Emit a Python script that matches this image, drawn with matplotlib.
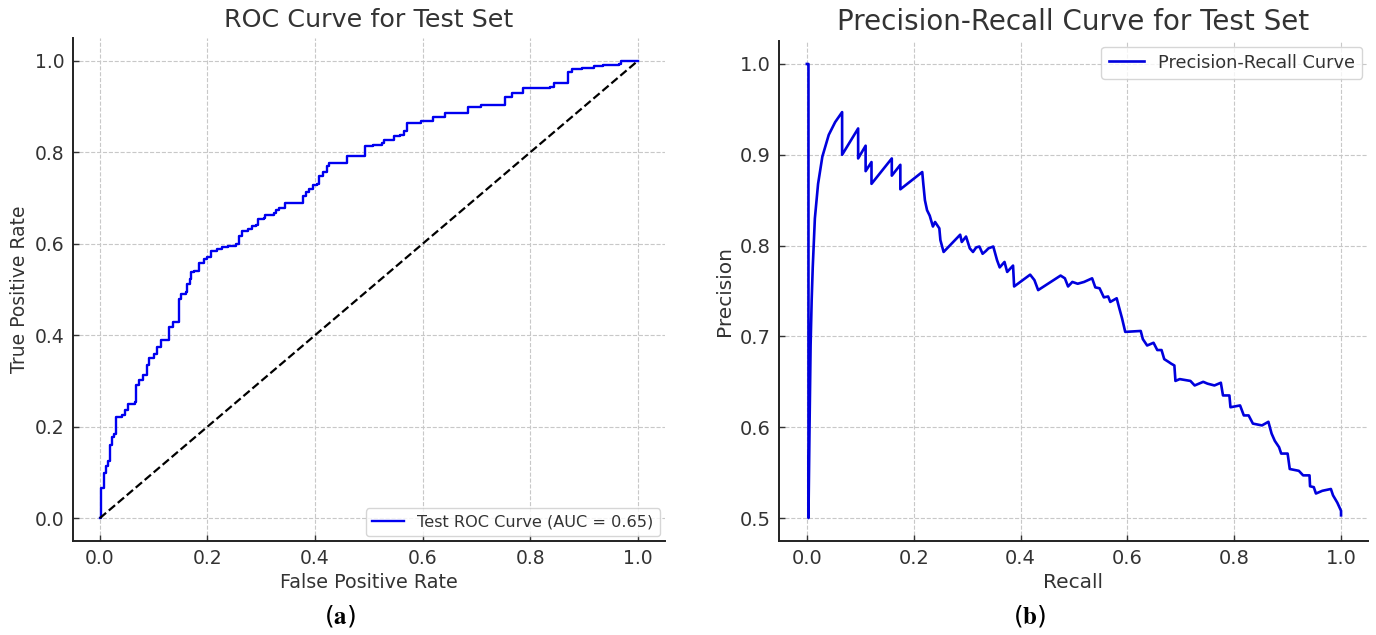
import matplotlib
matplotlib.use("Agg")
import matplotlib.pyplot as plt

# ROC curve corners (fpr, tpr), drawn as steps
fpr = [0.000, 0.003, 0.007, 0.011, 0.015, 0.019, 0.022, 0.027, 0.031, 0.041,
       0.046, 0.053, 0.066, 0.068, 0.073, 0.081, 0.087, 0.092, 0.101, 0.106,
       0.114, 0.128, 0.136, 0.147, 0.148, 0.151, 0.160, 0.162, 0.167, 0.169,
       0.176, 0.184, 0.194, 0.200, 0.206, 0.217, 0.228, 0.239, 0.253, 0.258,
       0.264, 0.275, 0.283, 0.291, 0.294, 0.305, 0.308, 0.323, 0.327, 0.334,
       0.345, 0.378, 0.383, 0.389, 0.396, 0.404, 0.407, 0.415, 0.422, 0.426,
       0.459, 0.493, 0.507, 0.525, 0.529, 0.547, 0.558, 0.565, 0.571, 0.598,
       0.620, 0.642, 0.684, 0.708, 0.753, 0.767, 0.786, 0.837, 0.844, 0.870,
       0.877, 0.896, 0.918, 0.936, 0.965, 0.969, 1.000]
tpr = [0.000, 0.065, 0.098, 0.113, 0.124, 0.160, 0.178, 0.185, 0.222, 0.225,
       0.236, 0.250, 0.255, 0.291, 0.302, 0.313, 0.335, 0.351, 0.360, 0.375,
       0.389, 0.418, 0.429, 0.433, 0.480, 0.490, 0.494, 0.512, 0.523, 0.539,
       0.541, 0.557, 0.567, 0.572, 0.585, 0.588, 0.592, 0.596, 0.599, 0.617,
       0.628, 0.632, 0.638, 0.641, 0.654, 0.657, 0.664, 0.668, 0.674, 0.679,
       0.690, 0.704, 0.713, 0.720, 0.728, 0.730, 0.749, 0.757, 0.770, 0.777,
       0.793, 0.813, 0.816, 0.820, 0.828, 0.835, 0.838, 0.847, 0.865, 0.868,
       0.878, 0.886, 0.900, 0.904, 0.922, 0.929, 0.940, 0.942, 0.951, 0.976,
       0.982, 0.985, 0.990, 0.992, 0.994, 1.000, 1.000]
auc_value = 0.65

# precision-recall curve points
recall = [0.000, 0.003, 0.003, 0.005, 0.007, 0.009, 0.011, 0.015, 0.021, 0.029,
          0.041, 0.053, 0.066, 0.066, 0.096, 0.096, 0.110, 0.110, 0.121, 0.121,
          0.159, 0.159, 0.175, 0.175, 0.216, 0.218, 0.221, 0.225, 0.230, 0.236,
          0.240, 0.248, 0.250, 0.256, 0.287, 0.290, 0.298, 0.305, 0.311, 0.317,
          0.323, 0.329, 0.335, 0.340, 0.349, 0.356, 0.361, 0.370, 0.375, 0.386,
          0.388, 0.418, 0.422, 0.426, 0.433, 0.475, 0.483, 0.489, 0.497, 0.507,
          0.519, 0.534, 0.540, 0.548, 0.556, 0.564, 0.568, 0.580, 0.584, 0.590,
          0.596, 0.625, 0.629, 0.637, 0.649, 0.656, 0.664, 0.669, 0.677, 0.682,
          0.688, 0.690, 0.698, 0.718, 0.726, 0.742, 0.750, 0.763, 0.775, 0.779,
          0.791, 0.793, 0.811, 0.818, 0.827, 0.835, 0.852, 0.864, 0.870, 0.876,
          0.884, 0.888, 0.900, 0.904, 0.921, 0.929, 0.941, 0.942, 0.949, 0.953,
          0.965, 0.981, 0.985, 0.993, 1.000, 1.000]
precision = [1.000, 1.000, 0.500, 0.600, 0.690, 0.740, 0.776, 0.830, 0.868, 0.898,
             0.922, 0.936, 0.947, 0.900, 0.929, 0.896, 0.910, 0.882, 0.892, 0.868,
             0.896, 0.877, 0.889, 0.862, 0.881, 0.868, 0.850, 0.839, 0.833, 0.821,
             0.826, 0.819, 0.806, 0.793, 0.812, 0.804, 0.810, 0.797, 0.793, 0.798,
             0.799, 0.791, 0.794, 0.797, 0.799, 0.784, 0.776, 0.782, 0.771, 0.778,
             0.755, 0.768, 0.765, 0.762, 0.751, 0.767, 0.764, 0.755, 0.760, 0.758,
             0.760, 0.764, 0.754, 0.753, 0.743, 0.744, 0.738, 0.742, 0.733, 0.720,
             0.705, 0.706, 0.697, 0.690, 0.693, 0.685, 0.685, 0.675, 0.672, 0.670,
             0.668, 0.651, 0.653, 0.651, 0.646, 0.650, 0.648, 0.646, 0.649, 0.635,
             0.635, 0.622, 0.624, 0.613, 0.613, 0.604, 0.602, 0.606, 0.593, 0.585,
             0.578, 0.571, 0.571, 0.554, 0.552, 0.547, 0.547, 0.535, 0.534, 0.527,
             0.530, 0.532, 0.525, 0.517, 0.508, 0.503]

txt = "#333333"
plt.rcParams["font.family"] = "DejaVu Sans"
plt.rcParams["text.color"] = txt
plt.rcParams["axes.labelcolor"] = txt
plt.rcParams["xtick.color"] = txt
plt.rcParams["ytick.color"] = txt
plt.rcParams["mathtext.fontset"] = "stix"

fig = plt.figure(figsize=(13.76, 6.35), dpi=100)
ax1 = fig.add_axes([0.053, 0.148, 0.430, 0.792])
ax2 = fig.add_axes([0.566, 0.148, 0.428, 0.787])


def style(ax, size):
    ax.grid(True, linestyle="--", color="#c8c8c8", linewidth=0.8)
    ax.set_axisbelow(True)
    for s in ["top", "right"]:
        ax.spines[s].set_visible(False)
    for s in ["left", "bottom"]:
        ax.spines[s].set_linewidth(1.4)
        ax.spines[s].set_color("#222222")
    ax.tick_params(direction="in", length=4, width=1, labelsize=size, pad=6)


ax1.plot(fpr, tpr, color="#0000f0", lw=1.7, drawstyle="steps-post",
         label=f"Test ROC Curve (AUC = {auc_value:.2f})")
ax1.plot([0, 1], [0, 1], "k--", lw=1.6)
ax1.set_xlim(-0.05, 1.05)
ax1.set_ylim(-0.05, 1.05)
ax1.set_xticks([0.0, 0.2, 0.4, 0.6, 0.8, 1.0])
ax1.set_yticks([0.0, 0.2, 0.4, 0.6, 0.8, 1.0])
ax1.set_title("ROC Curve for Test Set", fontsize=18.3, pad=8)
ax1.set_xlabel("False Positive Rate", fontsize=13.8, labelpad=3)
ax1.set_ylabel("True Positive Rate", fontsize=13.5)
style(ax1, 13.5)
ax1.legend(loc="lower right", fontsize=11.6, borderaxespad=0.3)

ax2.plot(recall, precision, color="#0000dd", lw=1.9, label="Precision-Recall Curve")
ax2.set_xlim(-0.0525, 1.05)
ax2.set_ylim(0.4747, 1.025)
ax2.set_xticks([0.0, 0.2, 0.4, 0.6, 0.8, 1.0])
ax2.set_yticks([0.5, 0.6, 0.7, 0.8, 0.9, 1.0])
ax2.set_title("Precision-Recall Curve for Test Set", fontsize=20, pad=8)
ax2.set_xlabel("Recall", fontsize=14.5, labelpad=3)
ax2.set_ylabel("Precision", fontsize=14.5)
style(ax2, 14)
ax2.legend(loc="upper right", fontsize=12.8, borderaxespad=0.3)

fig.text(0.247, 0.018, r"($\mathbf{a}$)", fontsize=18, ha="center", color="black")
fig.text(0.748, 0.018, r"($\mathbf{b}$)", fontsize=18, ha="center", color="black")

fig.savefig("out.png", dpi=100)
